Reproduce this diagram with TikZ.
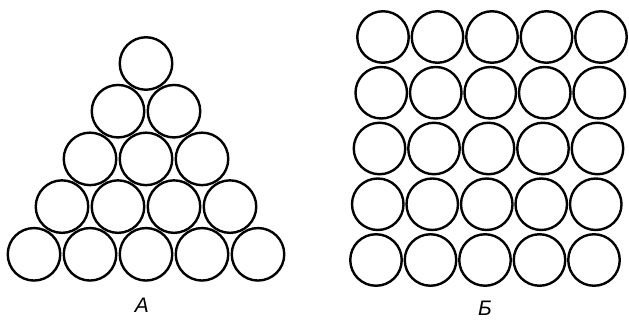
\documentclass[tikz,border=0pt]{standalone}
\usepackage{fontspec}
\newfontfamily\labfont{Liberation Sans}
\begin{document}
\begin{tikzpicture}[x=1pt,y=-1pt,
  ball/.style={circle,draw=black,line width=2.4pt,minimum size=52.5pt,inner sep=0pt},
  lab/.style={font=\labfont\itshape\fontsize{21}{21}\selectfont,inner sep=0pt}]
\useasboundingbox (0,0) rectangle (629,320);
% triangle packing
\foreach \i in {0,...,4}{
  \foreach \j in {0,...,\i}{
    \node[ball] (t\i\j) at ({146+56*(\j-\i/2)},{63.5+47.7*\i}) {};
  }
}
% square packing
\foreach \r in {0,...,4}{
  \foreach \c in {0,...,4}{
    \node[ball,minimum size=51.5pt] (s\r\c) at ({383+54.5*\c-1.75*\r},{37+55.75*\r}) {};
  }
}
\node[lab] (la) at (142,305) {А};
\node[lab] (lb) at (485,308) {Б};
\end{tikzpicture}
\end{document}
